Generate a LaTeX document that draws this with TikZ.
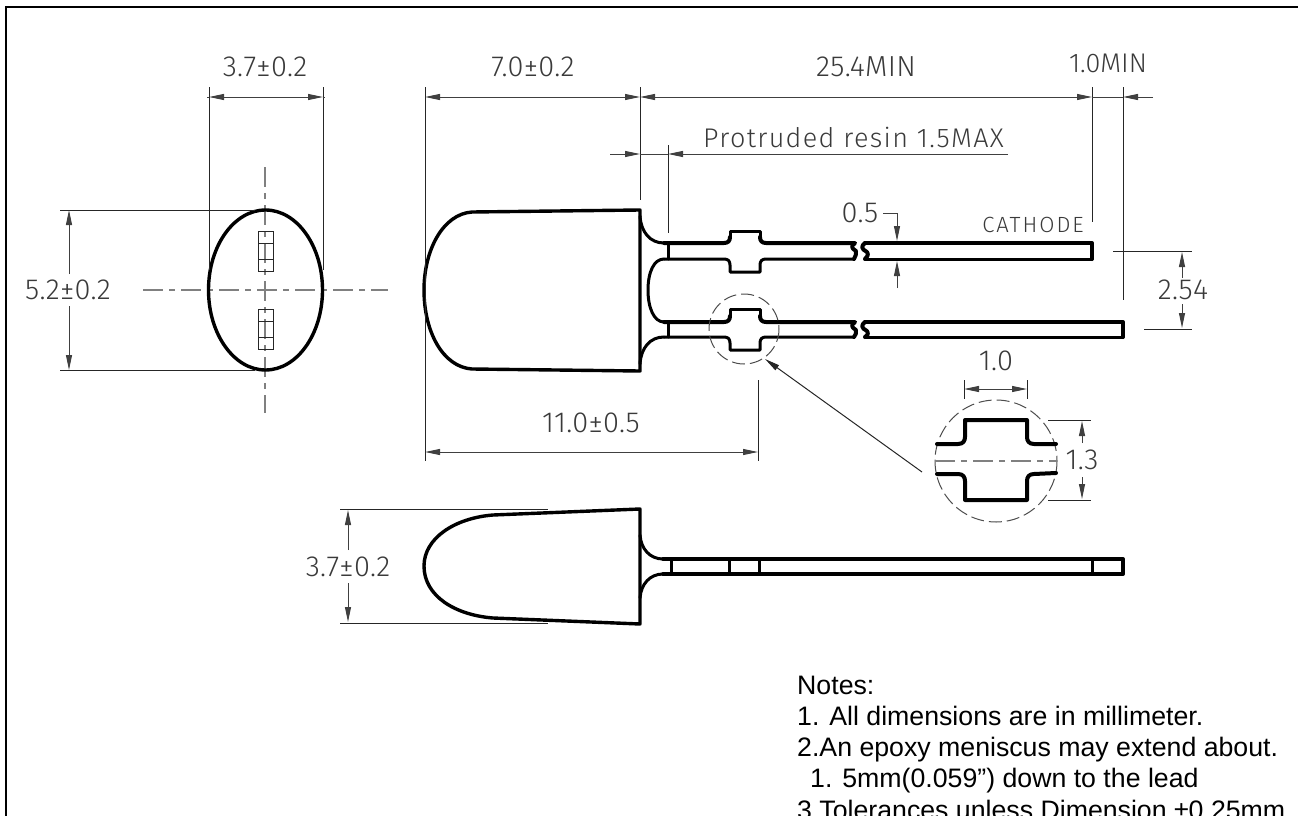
\documentclass[tikz,border=0pt]{standalone}
\usepackage{fontspec}
\setmainfont{Liberation Sans}
\newfontfamily\dinfont[LetterSpace=1]{Fira Sans Light}
\newfontfamily\dinpro[LetterSpace=5]{Fira Sans Light}
\newfontfamily\dinwide[LetterSpace=9]{Fira Sans Light}
\newfontfamily\dintight{Fira Sans Light}
\usetikzlibrary{arrows.meta}
\definecolor{dimgray}{HTML}{3A3A3A}
\tikzset{
  x=1pt,y=-1pt,
  part/.style={line width=4pt,line join=round,line cap=round,black},
  partthin/.style={line width=3pt,line join=round,line cap=round,black},
  oval/.style={line width=3.4pt,black},
  ext/.style={line width=1pt,black!85},
  dimline/.style={line width=1pt,black!75},
  center/.style={line width=1.1pt,black!50,dash pattern=on 20pt off 6pt on 6pt off 6pt},
  detail/.style={line width=1pt,black!70,dash pattern=on 13pt off 5pt},
  tip/.style={-{Triangle[length=15pt,width=6pt]}},
  tips/.style={{Triangle[length=15pt,width=6pt]}-{Triangle[length=15pt,width=6pt]}},
  lab/.style={inner sep=0pt,text=dimgray,font=\dinfont\fontsize{29}{29}\selectfont},
  labtight/.style={inner sep=0pt,text=dimgray,font=\dintight\fontsize{27}{27}\selectfont},
  prolab/.style={inner sep=0pt,text=dimgray,font=\dinpro\fontsize{27}{27}\selectfont},
  catlab/.style={inner sep=0pt,text=dimgray,font=\dinwide\fontsize{22}{22}\selectfont},
  notes/.style={inner sep=0pt,anchor=base west,font=\fontsize{26.7}{26.7}\selectfont},
}
\begin{document}
\begin{tikzpicture}
\useasboundingbox (0,0) rectangle (1298,816);
\clip (0,0) rectangle (1298,816);
% frame
\draw[line width=2.2pt] (6,830) -- (6,7) -- (1300,7);
% ---- front view
\draw[center] (143,290) -- (388,290);
\draw[center] (265,167) -- (265,413);
\draw[ext] (258,231) rectangle (273,271) (258,243) -- (273,243) (258,259) -- (273,259);
\draw[ext] (258,309) rectangle (273,349) (258,321) -- (273,321) (258,337) -- (273,337);
\draw[oval] (265.5,290) ellipse [x radius=57,y radius=80];
\draw[ext] (209,87) -- (209,270) (323,87) -- (323,270);
\draw[dimline,tips] (209,97) -- (323,97);
\draw[dimline] (207,97) -- (209,97) (323,97) -- (325,97);
\node[lab] (d37a) at (265,67) {3.7±0.2};
\draw[ext] (60,210) -- (255,210) (60,370) -- (255,370);
\coordinate (d52t) at (69,210); \coordinate (d52b) at (69,370);
\node[lab] (d52) at (68,290) {5.2±0.2};
\draw[dimline,tip] (69,274) -- (d52t);
\draw[dimline,tip] (69,306) -- (d52b);
% ---- side view, body
\draw[oval,line join=round] (640,210) -- (472,212) .. controls (443,214) and (424,250) .. (424,290) .. controls (424,332) and (443,367) .. (472,369) -- (640,371) -- cycle;
% fillets
\draw[partthin] (640,216) .. controls (641,232) and (650,243) .. (664,243);
\draw[partthin] (664,259) .. controls (654,259) and (648,272) .. (648,290) .. controls (648,308) and (654,322) .. (664,322);
\draw[partthin] (664,337) .. controls (650,337) and (641,348) .. (640,364);
\draw[partthin] (668,243) -- (668,259) (668,322) -- (668,337);
% upper lead
\draw[part] (664,243) -- (724,243) .. controls (728,243) and (730,241) .. (730,237);
\draw[partthin] (730,237) -- (730,231) -- (760,231) -- (760,237);
\draw[part] (760,237) .. controls (760,241) and (762,243) .. (766,243) -- (855,243) .. controls (851,246) and (851,248) .. (856,251) .. controls (856,254) and (856,256) .. (854,259);
\draw[partthin] (664,259) -- (724,259) .. controls (728,259) and (730,261) .. (730,265) -- (730,272) -- (760,272) -- (760,265) .. controls (760,261) and (762,259) .. (766,259) -- (854,259);
\draw[part] (865,243) .. controls (861,246) and (861,249) .. (867,252) .. controls (869,255) and (867,257) .. (865,259);
\draw[part] (865,243) -- (1092,243) -- (1092,259);
\draw[partthin] (865,259) -- (1092,259);
% lower lead
\draw[part] (664,322) -- (724,322) .. controls (728,322) and (730,320) .. (730,316);
\draw[partthin] (730,316) -- (730,309) -- (760,309) -- (760,316);
\draw[part] (760,316) .. controls (760,320) and (762,322) .. (766,322) -- (855,322) .. controls (851,325) and (851,327) .. (856,330) .. controls (856,333) and (856,335) .. (854,337);
\draw[partthin] (664,337) -- (724,337) .. controls (728,337) and (730,339) .. (730,343) -- (730,350) -- (760,350) -- (760,343) .. controls (760,339) and (762,337) .. (766,337) -- (854,337);
\draw[part] (865,322) .. controls (861,325) and (861,328) .. (867,331) .. controls (869,334) and (867,336) .. (865,337);
\draw[part] (865,322) -- (1123,322) -- (1123,337);
\draw[partthin] (865,337) -- (1123,337);
% dimensions, side view
\draw[ext] (425,87) -- (425,461) (640,87) -- (640,200) (668,145) -- (668,233);
\draw[ext] (1092,87) -- (1092,222) (1123,87) -- (1123,300);
\draw[dimline,tips] (425,97) -- (640,97);
\draw[dimline,tips] (640,97) -- (1092,97);
\draw[dimline] (1092,97) -- (1123,97);
\coordinate (e1) at (1153,97);
\draw[dimline,tip] (e1) -- (1123,97);
\node[lab] (d70) at (533,67) {7.0±0.2};
\node[lab] (d254) at (866,67) {25.4MIN};
\node[labtight] (d10m) at (1108,63) {1.0MIN};
\draw[dimline,tip] (610,154) -- (640,154);
\draw[dimline] (640,154) -- (668,154);
\draw[dimline,tip] (1008,154) -- (668,154);
\node[prolab,anchor=base west] (pro) at (703,147) {Protruded resin 1.5MAX};
\draw[dimline,tips] (425,452) -- (758,452);
\draw[ext] (758,380) -- (758,461);
\node[lab] (d11) at (591,423) {11.0±0.5};
\node[lab] (d05) at (860,213) {0.5};
\draw[dimline,tip] (883,213) -- (897,213) -- (897,241);
\draw[dimline,tip] (897,288) -- (897,261);
\node[catlab] (cat) at (1033,225) {CATHODE};
\draw[ext] (1113,251) -- (1192,251) (1144,329) -- (1192,329);
\node[lab] (d254b) at (1183,290) {2.54};
\draw[dimline,tip] (1182,278) -- (1182,252);
\draw[dimline,tip] (1182,304) -- (1182,328);
% circle + leader
\draw[detail] (744,329) circle [radius=35];
\coordinate (lt) at (765,359); \coordinate (ls) at (922,472);
\draw[ext,tip] (ls) -- (lt);
% ---- detail
\draw[detail] (996,461) circle [radius=61];
\draw[center] (935,461) -- (1057,461);
\draw[part] (937,444) -- (958,444) .. controls (963,444) and (965,441) .. (965,437) -- (965,420) -- (1027,420) -- (1027,437) .. controls (1027,441) and (1029,444) .. (1034,444) -- (1056,444);
\draw[part] (937,474) -- (958,474) .. controls (963,474) and (965,477) .. (965,481) -- (965,500) -- (1027,500) -- (1027,481) .. controls (1027,477) and (1029,474) .. (1034,474) -- (1056,473);
\draw[ext] (964,380) -- (964,399) (1027,380) -- (1027,399);
\draw[dimline,tips] (964,389) -- (1027,389);
\node[lab] (d10) at (996,361) {1.0};
\draw[ext] (1048,420) -- (1091,420) (1048,500) -- (1091,500);
\node[lab] (d13) at (1082,460) {1.3};
\draw[dimline,tip] (1082,443) -- (1082,421);
\draw[dimline,tip] (1082,477) -- (1082,499);
% ---- bottom view
\draw[oval,line join=round] (640,509) -- (493,515) .. controls (455,518) and (424,538) .. (424,566) .. controls (424,596) and (455,615) .. (493,618) -- (640,624) -- cycle;
\draw[partthin] (640,535) .. controls (641,549) and (650,559) .. (663,559);
\draw[partthin] (640,598) .. controls (641,584) and (650,574) .. (663,574);
\draw[part] (663,559) -- (1123,559) -- (1123,574) -- (663,574);
\draw[partthin] (671,559) -- (671,574) (729,559) -- (729,574) (759,559) -- (759,574) (1092,559) -- (1092,574);
\draw[ext] (340,509) -- (548,509) (340,623) -- (548,623);
\node[lab] (d37b) at (348,567) {3.7±0.2};
\draw[dimline,tip] (348,550) -- (348,510);
\draw[dimline,tip] (348,583) -- (348,622);
% ---- notes
\node[notes] (n0) at (797,694) {Notes:};
\node[notes] (n1) at (797,725) {1. All dimensions are in millimeter.};
\node[notes] (n2) at (797,756) {2.An epoxy meniscus may extend about.};
\node[notes] (n3) at (810,787) {1. 5mm(0.059”) down to the lead};
\node[notes] (n4) at (797,819) {3.Tolerances unless Dimension ±0.25mm};
\end{tikzpicture}
\end{document}
